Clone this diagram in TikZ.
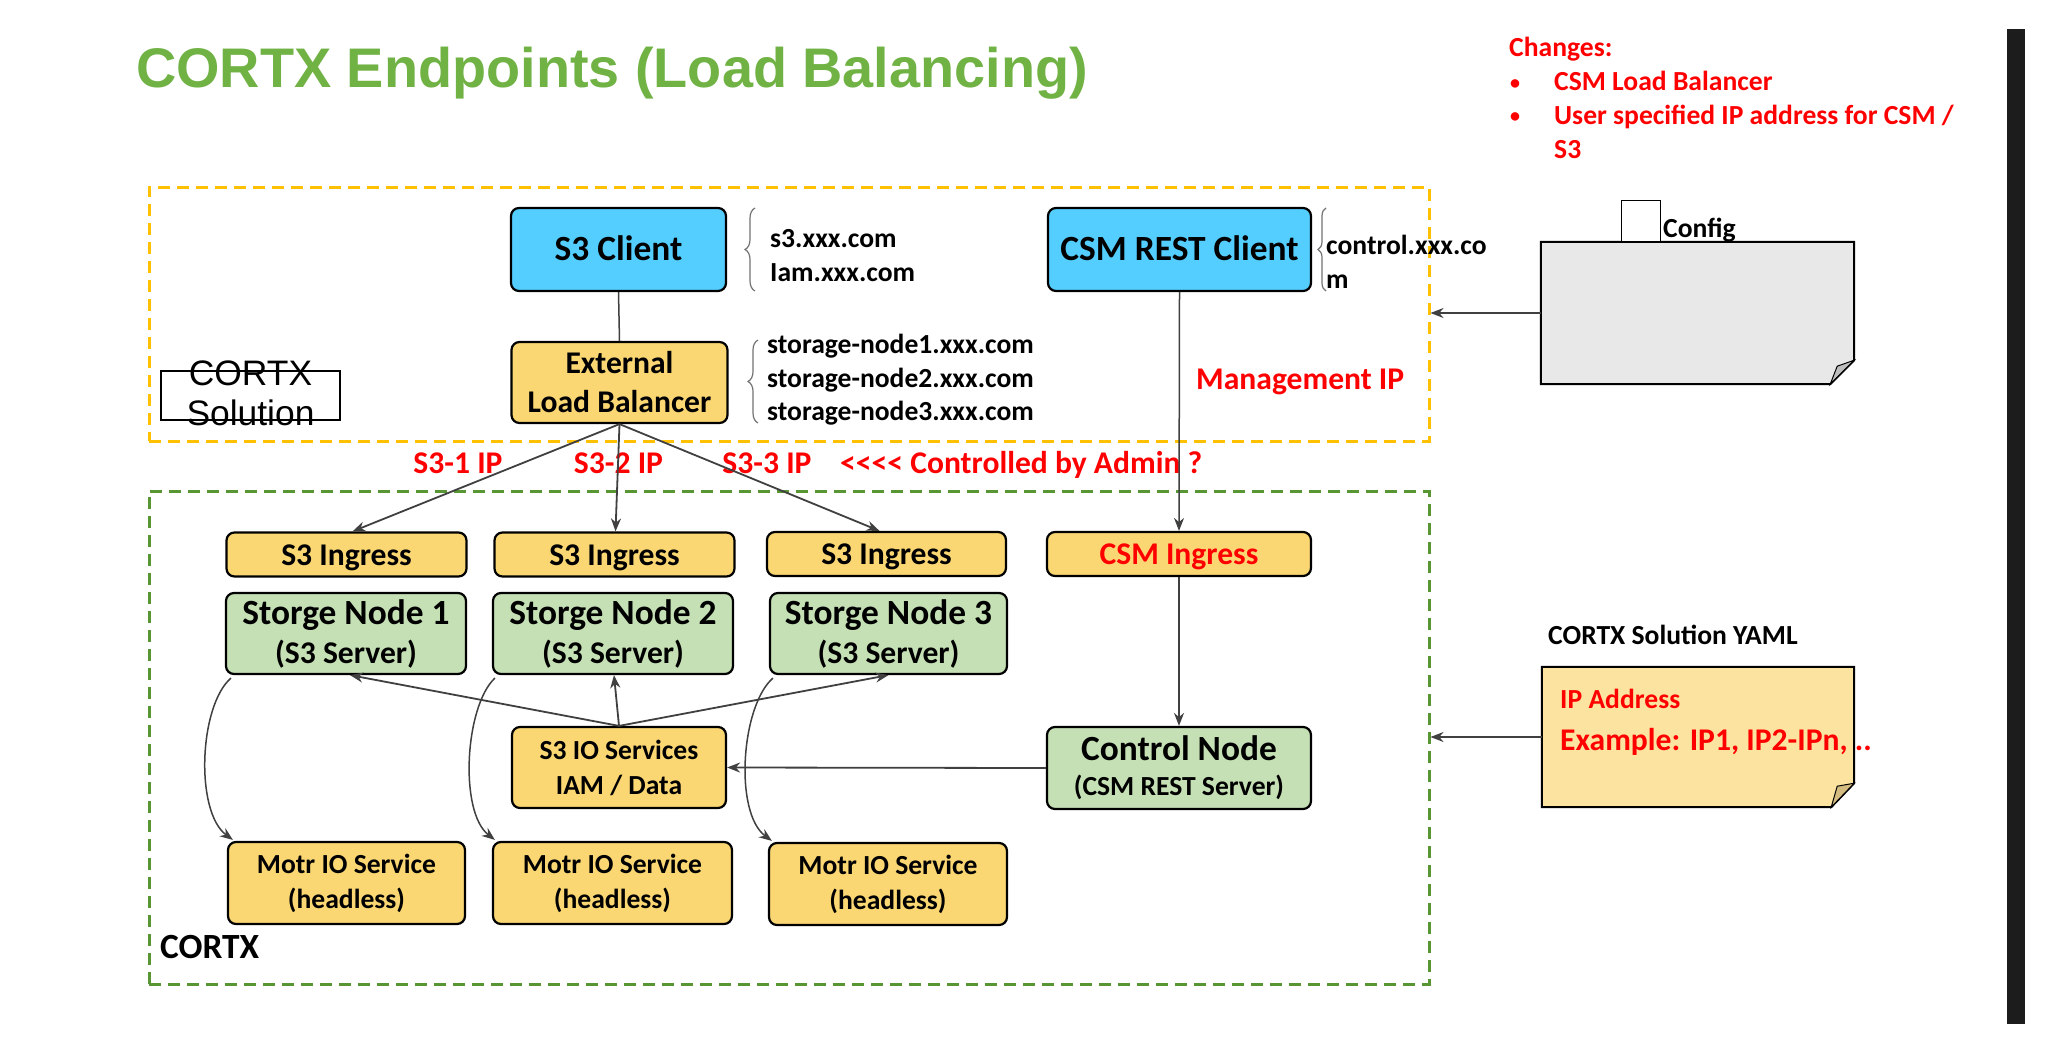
\documentclass[tikz,border=0pt]{standalone}
\usepackage{fontspec}
\setmainfont{Carlito}
\newfontfamily\arialf{Liberation Sans}
\usetikzlibrary{arrows.meta,decorations.pathreplacing,calc}
\definecolor{cblue}{RGB}{84,206,255}
\definecolor{cyel}{RGB}{250,215,115}
\definecolor{cgrn}{RGB}{197,224,180}
\definecolor{cred}{RGB}{255,0,0}
\definecolor{ctitle}{RGB}{112,178,68}
\definecolor{cdashy}{RGB}{255,192,0}
\definecolor{cdashg}{RGB}{88,150,52}
\definecolor{cline}{RGB}{64,64,64}
\definecolor{cdoc}{RGB}{232,232,232}
\definecolor{cfold}{RGB}{190,190,190}
\definecolor{cyaml}{RGB}{252,228,160}
\definecolor{cyfold}{RGB}{212,188,128}
\definecolor{cbar}{RGB}{28,28,28}
\newcommand\fsz[2]{\fontsize{#1}{#2}\selectfont}
\begin{document}
\begin{tikzpicture}[x=1pt,y=-1pt,
  box/.style={draw=black, line width=2.2pt, rounded corners=8pt, align=center, inner sep=0pt},
  bbox/.style={box, fill=cblue, font=\bfseries\fsz{35.4}{40}, text height=22pt, text depth=0pt},
  ybox/.style={box, fill=cyel},
  gbox/.style={box, fill=cgrn},
  ingbox/.style={ybox, font=\bfseries\fsz{31.6}{38}, text height=21pt, text depth=0pt, minimum height=44pt},
  conn/.style={draw=cline, line width=1.8pt},
  arr/.style={conn, -{Stealth[length=13pt,width=10pt]}},
  brc/.style={draw=black!55, line width=1.2pt, decorate, decoration={brace, amplitude=10pt}},
  lbl/.style={inner sep=0pt, anchor=base west},
  sm/.style={lbl, font=\bfseries\fsz{27.6}{34}},
  redl/.style={inner sep=0pt, text=cred, font=\bfseries\fsz{31.6}{38}},
  cont/.style={line width=3pt, dash pattern=on 12pt off 7pt, inner sep=0pt}
]
\fill[white] (0,0) rectangle (2045,1049);
\useasboundingbox (0,0) rectangle (2045,1049);

% title
\node[lbl, text=ctitle, font=\arialf\bfseries\fsz{55.8}{60}] (title) at (136,88) {CORTX Endpoints (Load Balancing)};

% changes
\node[lbl, text=cred, font=\bfseries\fsz{27.6}{33}] (chg) at (1509,57) {Changes:};
\node[lbl, text=cred, font=\bfseries\fsz{20}{33}] (b1) at (1510,89) {•};
\node[lbl, text=cred, font=\bfseries\fsz{20}{33}] (b2) at (1510,122) {•};
\node[lbl, text=cred, font=\bfseries\fsz{27.6}{33}] (c1) at (1554,91) {CSM Load Balancer};
\node[lbl, text=cred, font=\bfseries\fsz{27.6}{33}] (c2) at (1554,124) {User specified IP address for CSM /};
\node[lbl, text=cred, font=\bfseries\fsz{27.6}{33}] (c3) at (1554,158) {S3};

% black bar
\fill[cbar] (2007,29) rectangle (2025,1024);

% containers
\node[cont, draw=cdashy, minimum width=1280pt, minimum height=254pt] (sol) at (789,314) {};
\node[cont, draw=cdashg, minimum width=1280pt, minimum height=493pt] (cortx) at (789,737.5) {};

% CORTX Solution small box
\node[draw=black, line width=1.3pt, minimum width=179pt, minimum height=49pt, inner sep=0pt] (solbox) at (250.5,395.5) {};
\node[inner sep=0pt, anchor=base, font=\arialf\fsz{35.4}{40}] (solt1) at (250.5,385) {CORTX};
\node[inner sep=0pt, anchor=base, font=\arialf\fsz{35.4}{40}] (solt2) at (250.5,425) {Solution};

% clients
\node[bbox, minimum width=215pt, minimum height=83pt] (s3c) at (618.5,249.5) {S3 Client};
\node[bbox, minimum width=263pt, minimum height=83pt] (csmc) at (1179.5,249.5) {CSM REST Client};
\node[ybox, minimum width=216pt, minimum height=81pt, font=\bfseries\fsz{31.6}{39}] (elb) at (619.5,382.5) {External\\Load Balancer};

% braces and host names
\draw[brc] (755,291) -- (755,208);
\draw[brc] (758,423) -- (758,340);
\draw[brc, decoration={brace, amplitude=8pt}] (1326,291) -- (1326,208);
\node[sm] (h1) at (770,247) {s3.xxx.com};
\node[sm] (h2) at (770,281) {Iam.xxx.com};
\node[sm] (h3) at (767,353) {storage-node1.xxx.com};
\node[sm] (h4) at (767,387) {storage-node2.xxx.com};
\node[sm] (h5) at (767,420) {storage-node3.xxx.com};
\node[sm] (h6) at (1326,254) {control.xxx.co};
\node[sm] (h7) at (1326,288) {m};

% red labels
\node[redl, anchor=base] (ip1) at (458,473) {S3-1 IP};
\node[redl, anchor=base] (ip2) at (618.5,473) {S3-2 IP};
\node[redl, anchor=base] (ip3) at (767,473) {S3-3 IP};
\node[redl, anchor=base west] (adm) at (840,473) {<{}<{}<{}< Controlled by Admin ?};
\node[redl, anchor=base west] (mip) at (1196,389) {Management IP};

% ingress
\node[ingbox, minimum width=240pt] (ing1) at (346.5,554.5) {S3 Ingress};
\node[ingbox, minimum width=240pt] (ing2) at (614.5,554.5) {S3 Ingress};
\node[ingbox, minimum width=239pt] (ing3) at (886.5,554) {S3 Ingress};
\node[ingbox, minimum width=264pt, text=cred] (csmi) at (1179,554) {CSM Ingress};

% storage nodes
\node[gbox, minimum width=240pt, minimum height=81pt, font=\bfseries\fsz{31.6}{39}] (sn1) at (346,633.5) {{\fsz{35.4}{39}Storge Node 1}\\(S3 Server)};
\node[gbox, minimum width=240pt, minimum height=81pt, font=\bfseries\fsz{31.6}{39}] (sn2) at (613,633.5) {{\fsz{35.4}{39}Storge Node 2}\\(S3 Server)};
\node[gbox, minimum width=237pt, minimum height=81pt, font=\bfseries\fsz{31.6}{39}] (sn3) at (888.5,633.5) {{\fsz{35.4}{39}Storge Node 3}\\(S3 Server)};

% io services and control node
\node[ybox, minimum width=214pt, minimum height=81pt, font=\bfseries\fsz{27.6}{35}] (s3io) at (619,767.5) {S3 IO Services\\IAM / Data};
\node[gbox, minimum width=264pt, minimum height=82pt, font=\bfseries\fsz{27.6}{35}] (ctrl) at (1179,768) {{\fsz{35.4}{35}Control Node}\\(CSM REST Server)};

% motr
\node[ybox, minimum width=237pt, minimum height=82pt, font=\bfseries\fsz{27.6}{35}] (mo1) at (346.5,883) {Motr IO Service\\(headless)};
\node[ybox, minimum width=239pt, minimum height=82pt, font=\bfseries\fsz{27.6}{35}] (mo2) at (612.5,883) {Motr IO Service\\(headless)};
\node[ybox, minimum width=238pt, minimum height=82pt, font=\bfseries\fsz{27.6}{35}] (mo3) at (888,884) {Motr IO Service\\(headless)};

\node[lbl, font=\bfseries\fsz{35.4}{40}] (cortxl) at (160,958) {CORTX};

% config document
\node[minimum width=313pt, minimum height=142pt, inner sep=0pt] (cfg) at (1697.5,313) {};
\draw[fill=cdoc, line width=2pt] (cfg.north west) -- (cfg.north east) -- ($(cfg.south east)+(0,-24)$) -- ($(cfg.south east)+(-24,0)$) -- (cfg.south west) -- cycle;
\draw[fill=cfold, line width=1pt] ($(cfg.south east)+(0,-24)$) -- ($(cfg.south east)+(-24,0)$) -- ($(cfg.south east)+(-17,-18)$) -- cycle;
\node[draw=black, fill=white, line width=1pt, minimum width=39pt, minimum height=41pt, inner sep=0pt] (cfgsq) at (1640.5,220.5) {};
\node[lbl, font=\bfseries\fsz{27.6}{33}] (cfgl) at (1663,237) {Config};

% yaml document
\node[minimum width=312pt, minimum height=140pt, inner sep=0pt] (yaml) at (1698,737) {};
\draw[fill=cyaml, line width=2pt] (yaml.north west) -- (yaml.north east) -- ($(yaml.south east)+(0,-24)$) -- ($(yaml.south east)+(-23,0)$) -- (yaml.south west) -- cycle;
\draw[fill=cyfold, line width=1pt] ($(yaml.south east)+(0,-24)$) -- ($(yaml.south east)+(-23,0)$) -- ($(yaml.south east)+(-17,-21)$) -- cycle;
\node[lbl, font=\bfseries\fsz{27.6}{33}] (yamll) at (1548,644) {CORTX Solution YAML};
\node[lbl, text=cred, font=\bfseries\fsz{27.6}{33}] (ipa) at (1560,708) {IP Address};
\node[lbl, text=cred, font=\bfseries\fsz{31.6}{38}] (ipe) at (1560,750) {Example: IP1, IP2-IPn, ..};

% connectors
\draw[conn, line width=1.5pt] (s3c.south) -- (elb.north);
\draw[arr] (elb.south) -- ([xshift=6pt]ing1.north);
\draw[arr] (elb.south) -- ([xshift=1pt]ing2.north);
\draw[arr] (elb.south) -- ([xshift=-7pt]ing3.north);
\draw[arr, line width=1.5pt] (csmc.south) -- (csmi.north);
\draw[arr] (csmi.south) -- (ctrl.north);
\draw[arr] (ctrl.west) -- (s3io.east);
\draw[arr] (s3io.north) -- ([xshift=4pt]sn1.south);
\draw[arr] (s3io.north) -- ([xshift=1pt]sn2.south);
\draw[arr] (s3io.north) -- (sn3.south);
\draw[arr, line width=1.5pt] ([xshift=6pt,yshift=-3pt]sn1.south west) .. controls +(-32,28) and +(-38,-28) .. ([xshift=6pt,yshift=1pt]mo1.north west);
\draw[arr, line width=1.5pt] ([xshift=3pt,yshift=-3pt]sn2.south west) .. controls +(-30,28) and +(-36,-28) .. ([xshift=3pt,yshift=1pt]mo2.north west);
\draw[arr, line width=1.5pt] ([xshift=4pt,yshift=-3pt]sn3.south west) .. controls +(-32,28) and +(-38,-28) .. ([xshift=4pt,yshift=1pt]mo3.north west);
\draw[arr] (cfg.west) -- (cfg.west -| sol.east);
\draw[arr] (yaml.west) -- (yaml.west -| cortx.east);
\end{tikzpicture}
\end{document}
